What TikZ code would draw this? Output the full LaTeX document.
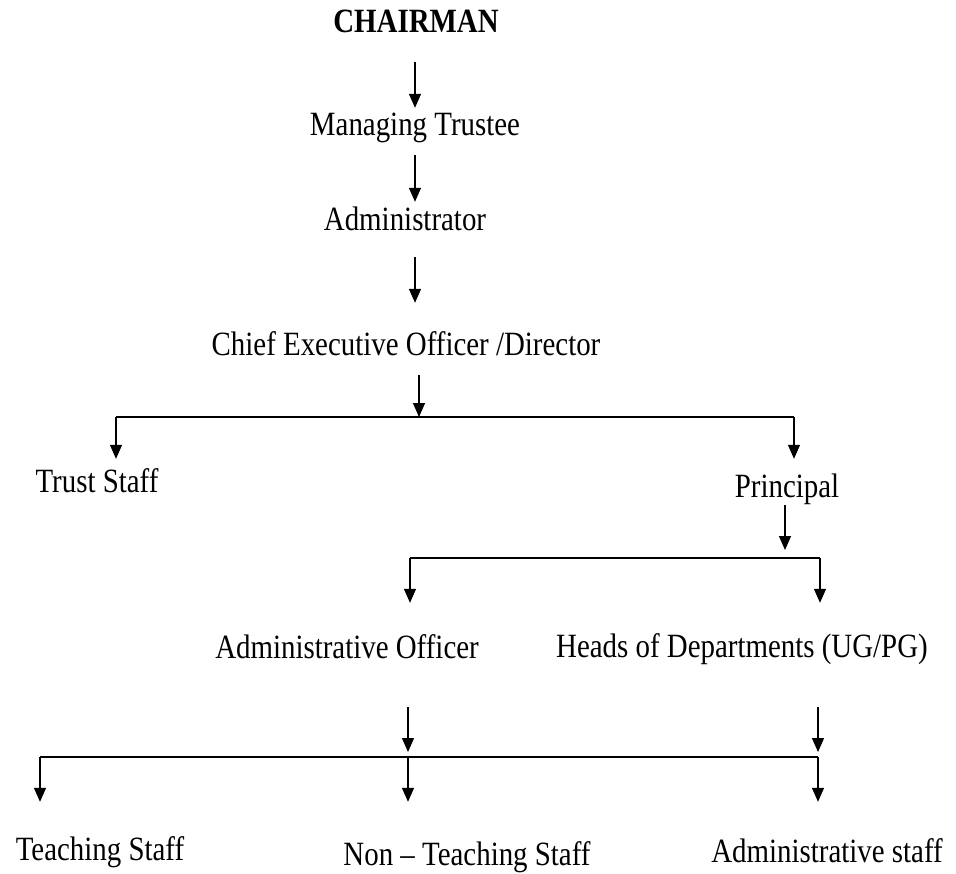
\documentclass[tikz,border=0pt]{standalone}
\usepackage{fontspec}
\setmainfont{Liberation Serif}[FakeStretch=0.85]
\usetikzlibrary{arrows.meta}

\begin{document}
\begin{tikzpicture}[x=1pt, y=-1pt, >={Triangle[length=14pt, width=12pt]}]

	\fontsize{34}{40}\selectfont

	% Styles
	\tikzstyle{post}=[inner sep=0pt, text height=20pt, text depth=6pt, anchor=base]
	\tikzstyle{arr}=[->, line width=1.3pt]
	\tikzstyle{bus}=[line width=2pt]

	\useasboundingbox (0, 0) rectangle (956, 873);

	% Posts
	\node[post, font=\bfseries] (chair) at (416, 32) {CHAIRMAN};
	\node[post] (trustee) at (415, 135) {Managing Trustee};
	\node[post] (admin) at (405, 230) {Administrator};
	\node[post] (ceo) at (406, 355) {Chief Executive Officer /Director};
	\node[post] (trust) at (97, 492) {Trust Staff};
	\node[post] (principal) at (787, 497) {Principal};
	\node[post] (ao) at (347, 658) {Administrative Officer};
	\node[post] (hod) at (742, 657) {Heads of Departments (UG/PG)};
	\node[post] (teach) at (100, 860) {Teaching Staff};
	\node[post] (nonteach) at (467, 865) {Non -- Teaching Staff};
	\node[post] (adstaff) at (827, 862) {Administrative staff};

	% Bus lines
	\coordinate (b1l) at (116, 417);
	\coordinate (b1m) at (419, 417);
	\coordinate (b1r) at (794, 417);
	\coordinate (b2l) at (410, 558);
	\coordinate (b2m) at (785, 558);
	\coordinate (b2r) at (820, 558);
	\coordinate (b3l) at (40, 757);
	\coordinate (b3m) at (408, 757);
	\coordinate (b3r) at (818, 757);
	\draw[bus] (b1l) -- (b1r);
	\draw[bus] (b2l) -- (b2r);
	\draw[bus] (b3l) -- (b3r);

	% Top chain
	\draw[arr, shorten <=24pt, shorten >=7pt] (chair.south -| trustee.south) -- (trustee.north -| trustee.south);
	\draw[arr, shorten <=14pt, shorten >=8pt] (trustee.south) -- (trustee.south |- admin.north);
	\draw[arr, shorten <=21pt, shorten >=32pt] (trustee.south |- admin.south) -- (trustee.south |- ceo.north);
	\draw[arr, shorten <=14pt] (b1m |- ceo.south) -- (b1m);

	% Under the CEO
	\draw[arr, shorten >=13pt] (b1l) -- (b1l |- trust.north);
	\draw[arr, shorten >=18pt] (b1r) -- (b1r |- principal.north);
	\draw[arr, shorten <=2pt, shorten >=8pt] (b2m |- principal.south) -- (b2m);

	% Under the principal
	\draw[arr, shorten >=35pt] (b2l) -- (b2l |- ao.north);
	\draw[arr, shorten >=34pt] (b2r) -- (b2r |- hod.north);
	\draw[arr, shorten <=43pt, shorten >=5pt] (b3m |- ao.south) -- (b3m);
	\draw[arr, shorten <=44pt, shorten >=5pt] (b3r |- hod.south) -- (b3r);

	% Staff
	\draw[arr, shorten >=38pt] (b3l) -- (b3l |- teach.north);
	\draw[arr, shorten >=43pt] (b3m) -- (b3m |- nonteach.north);
	\draw[arr, shorten >=40pt] (b3r) -- (b3r |- adstaff.north);

\end{tikzpicture}
\end{document}
